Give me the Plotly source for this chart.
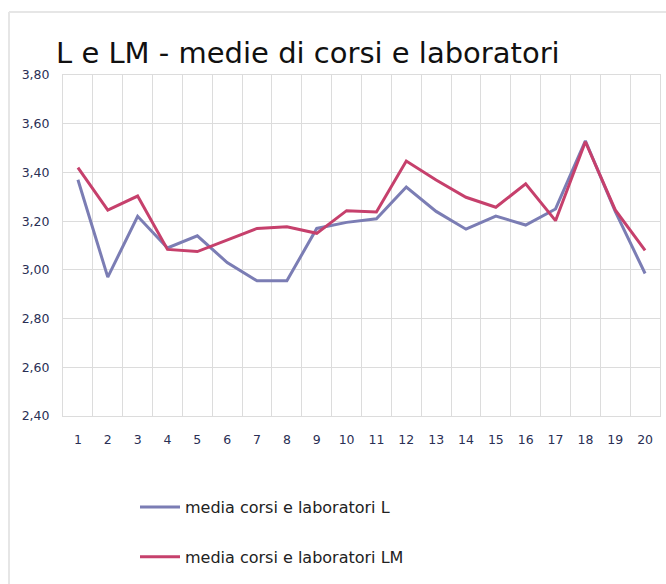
import plotly.graph_objects as go

categories = list(range(1, 21))
media_L = [3.37, 2.97, 3.22, 3.09, 3.14, 3.03, 2.955, 2.955, 3.17, 3.195,
           3.21, 3.34, 3.24, 3.167, 3.221, 3.184, 3.25, 3.53, 3.24, 2.985]
media_LM = [3.42, 3.245, 3.303, 3.084, 3.075, 3.123, 3.17, 3.177, 3.15, 3.243,
            3.238, 3.447, 3.369, 3.298, 3.257, 3.353, 3.202, 3.526, 3.246, 3.08]
y_ticks = [2.40, 2.60, 2.80, 3.00, 3.20, 3.40, 3.60, 3.80]
y_ticklabels = ["2,40", "2,60", "2,80", "3,00", "3,20", "3,40", "3,60", "3,80"]

fig = go.Figure()
fig.add_trace(go.Scatter(x=categories, y=media_L, mode="lines",
                         name="media corsi e laboratori L", legendgroup="a",
                         line=dict(color="#7b7db4", width=3)))
fig.add_trace(go.Scatter(x=categories, y=media_LM, mode="lines",
                         name="media corsi e laboratori LM", legendgroup="b",
                         line=dict(color="#c6406c", width=3)))

grid = "#dcdcdc"
tickfont = dict(family="DejaVu Sans, Verdana", size=12.5, color="#2a2f55")
fig.update_layout(
    width=666, height=584,
    margin=dict(l=63, r=6, t=75, b=168),
    paper_bgcolor="white", plot_bgcolor="white",
    title=dict(text="L e LM - medie di corsi e laboratori",
               x=56 / 666, xanchor="left", y=1 - 53 / 584, yanchor="middle",
               font=dict(family="DejaVu Sans", size=29, color="#111")),
    xaxis=dict(range=[0.5, 20.5], tickmode="array", tickvals=categories,
               ticktext=[str(c) for c in categories], showgrid=False,
               ticks="", ticklabelstandoff=12, tickfont=tickfont,
               showline=True, linecolor=grid, linewidth=1, mirror=True,
               zeroline=False,
               minor=dict(tickmode="linear", tick0=0.5, dtick=1, showgrid=True,
                          gridcolor=grid, gridwidth=1, ticks="")),
    yaxis=dict(range=[2.40, 3.80], tickmode="array", tickvals=y_ticks,
               ticktext=y_ticklabels, showgrid=True, gridcolor=grid, gridwidth=1,
               ticks="", ticklabelstandoff=10, tickfont=tickfont,
               showline=True, linecolor=grid, linewidth=1, mirror=True,
               zeroline=False),
    legend=dict(x=(135 - 63) / 597, xanchor="left", y=-(490 - 416) / 341,
                yanchor="top", tracegroupgap=26, itemwidth=40,
                bgcolor="rgba(0,0,0,0)",
                font=dict(family="DejaVu Sans", size=16, color="#222")),
    showlegend=True,
    shapes=[
        dict(type="line", xref="paper", yref="paper",
             x0=(9 - 63) / 597, x1=(9 - 63) / 597, y0=-(584 - 416) / 341 - 0.05,
             y1=1 + 63 / 341, line=dict(color="#e6e6e6", width=2)),
        dict(type="line", xref="paper", yref="paper",
             x0=(9 - 63) / 597, x1=1.05, y0=1 + 63 / 341, y1=1 + 63 / 341,
             line=dict(color="#e6e6e6", width=2)),
    ],
)

fig.write_html("out.html", config={"displayModeBar": False},
               post_script="document.body.style.margin='0';")
